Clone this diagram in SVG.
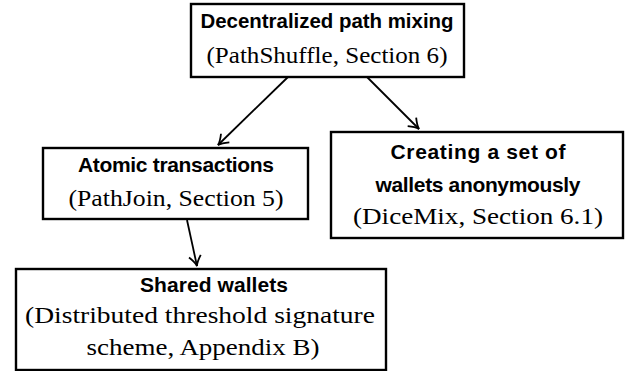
<svg xmlns="http://www.w3.org/2000/svg" width="630" height="371" viewBox="0 0 630 371">
<style>
.box{fill:#fff;stroke:#000;stroke-width:2.4}
.b{font-family:"Liberation Sans",Arial,sans-serif;font-weight:bold;font-size:21px;text-anchor:middle;fill:#000}
.r{font-family:"Liberation Serif","Times New Roman",serif;font-size:23px;text-anchor:middle;fill:#000}
.edge{stroke:#000;stroke-width:1.8;fill:none}
</style>
<defs>
<marker id="arr" markerUnits="userSpaceOnUse" markerWidth="20" markerHeight="20" refX="0" refY="0" viewBox="-12 -10 14 20" orient="auto">
<path d="M -10 -6 Q -4 -1 0 0 Q -4 1 -10 6" fill="none" stroke="#000" stroke-width="1.8"/>
</marker>
</defs>
<rect width="630" height="371" fill="#fff"/>
<g id="edges">
<line class="edge" x1="288" y1="77" x2="218" y2="145" marker-end="url(#arr)"/>
<line class="edge" x1="367" y1="77" x2="419" y2="129" marker-end="url(#arr)"/>
<line class="edge" x1="187" y1="220" x2="197" y2="266" marker-end="url(#arr)"/>
</g>
<g id="n_top">
<rect class="box" x="191" y="4" width="273" height="73"/>
<text class="b" x="327" y="28" textLength="253" lengthAdjust="spacingAndGlyphs">Decentralized path mixing</text>
<text class="r" x="327" y="63" textLength="241" lengthAdjust="spacingAndGlyphs">(PathShuffle, Section 6)</text>
</g>
<g id="n_atomic">
<rect class="box" x="43" y="148" width="265" height="71"/>
<text class="b" x="176" y="172" textLength="196" lengthAdjust="spacing">Atomic transactions</text>
<text class="r" x="176" y="206" textLength="215" lengthAdjust="spacingAndGlyphs">(PathJoin, Section 5)</text>
</g>
<g id="n_creating">
<rect class="box" x="331" y="132" width="292" height="106"/>
<text class="b" x="478" y="159" textLength="175" lengthAdjust="spacing">Creating a set of</text>
<text class="b" x="478" y="192" textLength="205" lengthAdjust="spacing">wallets anonymously</text>
<text class="r" x="478" y="224" textLength="250" lengthAdjust="spacingAndGlyphs">(DiceMix, Section 6.1)</text>
</g>
<g id="n_shared">
<rect class="box" x="16" y="269" width="370" height="101"/>
<text class="b" x="214" y="292" textLength="148" lengthAdjust="spacing">Shared wallets</text>
<text class="r" x="200" y="323" textLength="350" lengthAdjust="spacingAndGlyphs">(Distributed threshold signature</text>
<text class="r" x="203" y="355" textLength="233" lengthAdjust="spacingAndGlyphs">scheme, Appendix B)</text>
</g>
</svg>
